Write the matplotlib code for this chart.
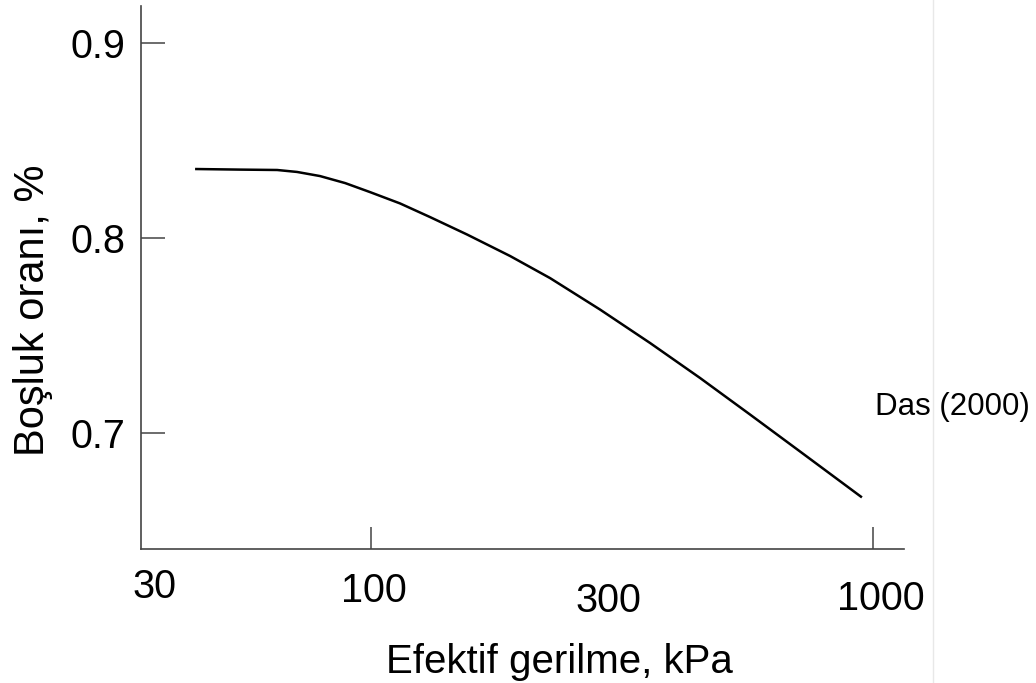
import matplotlib
matplotlib.use("Agg")
import matplotlib.pyplot as plt
from matplotlib.lines import Line2D

plt.rcParams['font.family'] = ['Liberation Sans', 'DejaVu Sans']

# Data
stress_kpa = [44.6, 54.8, 65.0, 71.2, 79.1, 88.8, 99.5, 114.2, 131.1, 155.3, 189.2,
              227.3, 285.9, 359.6, 452.3, 568.9, 715.5, 950.6]
void_ratio = [0.8353, 0.8350, 0.8348, 0.8338, 0.8317, 0.8281, 0.8235, 0.8177,
              0.8107, 0.8018, 0.7908, 0.7795, 0.7634, 0.7463, 0.7284, 0.7097,
              0.6908, 0.6673]

x_label_values = [30, 100, 300, 1000]
x_label_texts = ["30", "100", "300", "1000"]
y_tick_values = [0.7, 0.8, 0.9]
y_tick_texts = ["0.7", "0.8", "0.9"]

W, H = 1036, 683
fig = plt.figure(figsize=(W / 100, H / 100), dpi=100)
ax = fig.add_axes([141 / W, 1 - 549 / H, (904 - 141) / W, (549 - 6) / H])

ax.plot(stress_kpa, void_ratio, color='black', lw=1.8, solid_capstyle='butt',
        solid_joinstyle='round')

ax.set_xscale('log')
ax.set_xlim(34.8, 1153)
ax.set_ylim(0.6409, 0.9187)

for s in ['top', 'right']:
    ax.spines[s].set_visible(False)
for s in ['left', 'bottom']:
    ax.spines[s].set_color('#444444')
    ax.spines[s].set_linewidth(1.2)

ax.set_yticks(y_tick_values)
ax.set_yticklabels(y_tick_texts)
ax.tick_params(axis='y', direction='in', length=17, width=1.1, color='#444444',
               pad=11.0, labelsize=28.5)

ax.set_xticks([100, 1000])
ax.set_xticklabels(["", ""])
ax.xaxis.set_minor_locator(matplotlib.ticker.NullLocator())
ax.tick_params(axis='x', direction='in', length=16, width=1.1, color='#444444')

# x labels placed as in the reference (offsets in pixels)
offsets = [(46, -38), (3, -42), (-2, -52), (8, -50)]
for v, t, (dx, dy) in zip(x_label_values, x_label_texts, offsets):
    ax.annotate(t, xy=(v, 0), xycoords=('data', 'axes fraction'),
                xytext=(dx, dy), textcoords='offset pixels',
                ha='center', va='center', fontsize=28.5, annotation_clip=False)

fig.text(386 / W, 1 - 673 / H, "Efektif gerilme, kPa", ha='left', va='baseline',
         fontsize=29)
fig.text(33 / W, 1 - 310 / H, "Boşluk oranı, %", ha='center', va='center',
         rotation=90, fontsize=30)
fig.text(875 / W, 1 - 407 / H, "Das (2000)", ha='left', va='center', fontsize=22.5)

fig.add_artist(Line2D([933 / W, 933 / W], [0, 1], color='#e8e8e8', lw=1))

fig.savefig("out.png", dpi=100)
